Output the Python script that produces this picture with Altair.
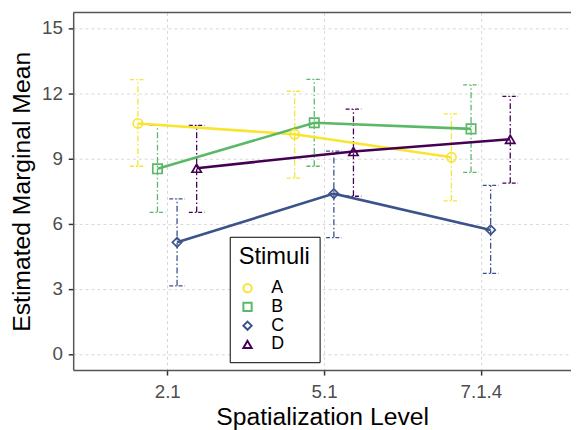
import altair as alt
import pandas as pd

levels = ["2.1", "5.1", "7.1.4"]
stimuli = ["A", "B", "C", "D"]
colors = ["#F8E431", "#5AB866", "#3B528B", "#440154"]
shapes = ["circle", "square", "diamond", "triangle-up"]

mean_A = [10.61, 10.11, 9.05]
lower_A = [8.64, 8.09, 7.05]
upper_A = [12.62, 12.09, 11.05]

mean_B = [8.52, 10.64, 10.36]
lower_B = [6.52, 8.64, 8.36]
upper_B = [10.52, 12.64, 12.38]

mean_C = [5.14, 7.38, 5.71]
lower_C = [3.14, 5.36, 3.71]
upper_C = [7.14, 9.34, 7.76]

mean_D = [8.55, 9.32, 9.88]
lower_D = [6.52, 7.26, 7.86]
upper_D = [10.52, 11.27, 11.85]

means = [mean_A, mean_B, mean_C, mean_D]
lowers = [lower_A, lower_B, lower_C, lower_D]
uppers = [upper_A, upper_B, upper_C, upper_D]

dodge = 0.5
cap = 0.05
rows = []
for si, s in enumerate(stimuli):
    off = -dodge / 2 + dodge / len(stimuli) * (si + 0.5)
    for li, lv in enumerate(levels):
        x = li + 1 + off
        rows.append({
            "Stimuli": s, "level": lv, "x": x,
            "xl": x - cap, "xr": x + cap,
            "mean": means[si][li], "lower": lowers[si][li], "upper": uppers[si][li],
        })
df = pd.DataFrame(rows)

W, H = 504, 362
xscale = alt.Scale(domain=[0.4, 3.575], nice=False, zero=False)
yscale = alt.Scale(domain=[-0.74, 15.71], nice=False, zero=False)
cscale = alt.Scale(domain=stimuli, range=colors)
sscale = alt.Scale(domain=stimuli, range=shapes)

label_expr = " : ".join(
    f"datum.value == {i + 1} ? '{lv}'" for i, lv in enumerate(levels)
) + " : ''"

xaxis = alt.Axis(
    values=[1, 2, 3], labelExpr=label_expr, title="Spatialization Level",
    grid=True, gridDash=[3, 3], gridColor="#d6d6d6", gridWidth=1,
    domainColor="#555555", domainWidth=1.5, tickColor="#333333", tickWidth=1.5,
    tickSize=5, labelFontSize=19, labelColor="#4d4d4d", labelPadding=8,
    titleFontSize=25, titleColor="#000000", titleFontWeight="normal", titlePadding=3,
)
yaxis = alt.Axis(
    values=[0, 3, 6, 9, 12, 15], title="Estimated Marginal Mean",
    grid=True, gridDash=[3, 3], gridColor="#d6d6d6", gridWidth=1,
    domainColor="#555555", domainWidth=1.5, tickColor="#333333", tickWidth=1.5,
    tickSize=5, labelFontSize=19, labelColor="#4d4d4d", labelPadding=6,
    titleFontSize=25, titleColor="#000000", titleFontWeight="normal", titlePadding=7,
)

base = alt.Chart(df)
color_enc = alt.Color("Stimuli:N", scale=cscale, title="Stimuli")

err = base.mark_rule(strokeWidth=1.3, strokeDash=[6, 2.5, 1.5, 2.5]).encode(
    x=alt.X("x:Q", scale=xscale, axis=xaxis),
    y=alt.Y("lower:Q", scale=yscale, axis=yaxis),
    y2="upper:Q",
    color=color_enc,
)
cap_top = base.mark_rule(strokeWidth=1.3, strokeDash=[4, 2, 1.5, 2]).encode(
    x="xl:Q", x2="xr:Q", y="upper:Q", color=color_enc,
)
cap_bot = base.mark_rule(strokeWidth=1.3, strokeDash=[4, 2, 1.5, 2]).encode(
    x="xl:Q", x2="xr:Q", y="lower:Q", color=color_enc,
)
lines = base.mark_line(strokeWidth=2.6).encode(
    x="x:Q", y="mean:Q", color=color_enc, detail="Stimuli:N",
)
points = base.mark_point(filled=False, size=90, strokeWidth=1.7, opacity=1).encode(
    x="x:Q", y="mean:Q",
    color=color_enc,
    shape=alt.Shape("Stimuli:N", scale=sscale, title="Stimuli"),
)
top_border = alt.Chart(alt.Data(values=[{"a": 1}])).mark_rule(
    color="#555555", strokeWidth=1.5
).encode(x=alt.value(0), x2=alt.value(W), y=alt.value(0))

chart = alt.layer(err, cap_top, cap_bot, lines, points, top_border).properties(
    width=W, height=H,
    padding={"left": 66, "top": 2, "right": 0, "bottom": 58},
    autosize=alt.AutoSizeParams(type="none"),
).configure(
    font="Liberation Sans",
).configure_view(
    stroke=None,
).configure_legend(
    orient="none", legendX=158.5, legendY=227,
    strokeColor="#000000", fillColor="#ffffff", padding=9,
    titleFontSize=24, titleFontWeight="normal", titleColor="#000000", titlePadding=10,
    labelFontSize=18, labelColor="#000000", labelOffset=15,
    symbolSize=70, symbolStrokeWidth=2, rowPadding=1, symbolFillColor="transparent",
)

chart.save("out.html", embed_options={"renderer": "svg", "actions": False})
